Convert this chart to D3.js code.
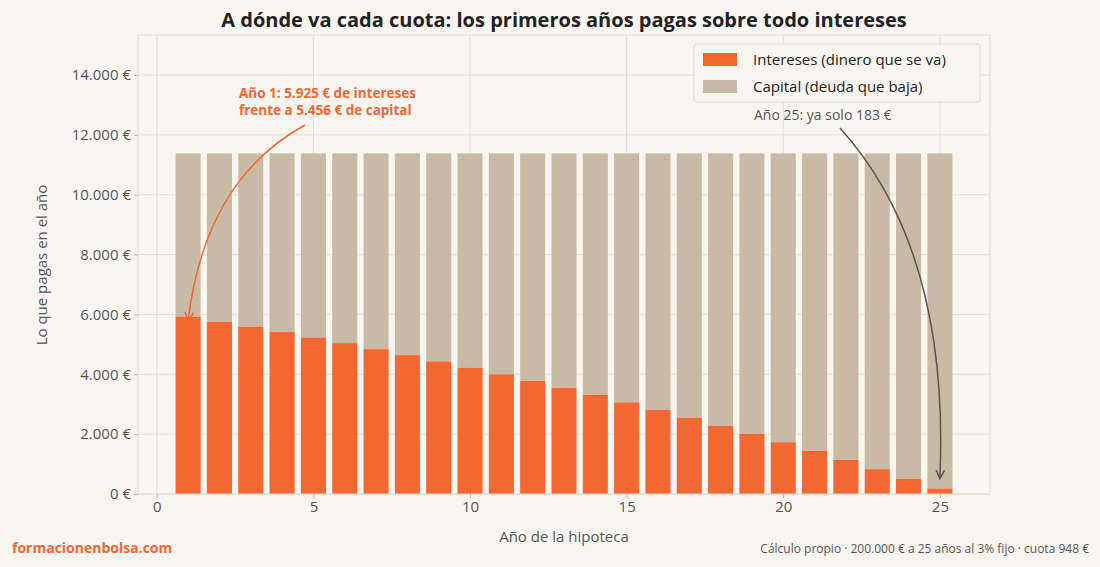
<!DOCTYPE html>
<html><head><meta charset="utf-8">
<script src="https://cdn.jsdelivr.net/npm/d3@7"></script>
<style>body{margin:0;background:#f9f6f1}svg{font-family:"Open Sans",sans-serif}</style>
</head><body><svg id="c" width="1100" height="567"></svg>
<script>
const years = d3.range(1,26);
const interest = [5925,5760,5590,5410,5230,5040,4840,4640,4430,4220,4000,3780,3540,3310,3060,2810,2550,2280,2010,1730,1440,1140,830,510,183];
const annualPayment = 11381;
const capital = interest.map(v=>annualPayment-v);
const yTicks = [0,2000,4000,6000,8000,10000,12000,14000];
const xTicks = [0,5,10,15,20,25];
const C_INT="#f26732", C_CAP="#c9baa6";
const svg=d3.select("#c");
svg.append("rect").attr("width",1100).attr("height",567).attr("fill","#f9f6f1");
const L=138,R=990,T=35,B=494;
const x=d3.scaleLinear().domain([-0.6,26.6]).range([L,R]);
const y=d3.scaleLinear().domain([0,15337]).range([B,T]);
const fmt=v=>d3.format(",")(v).replace(/,/g,".")+" €";
const g=svg.append("g");
g.selectAll(".gy").data(yTicks).join("line").attr("x1",L).attr("x2",R).attr("y1",d=>y(d)).attr("y2",d=>y(d)).attr("stroke","#e6dfd2");
g.selectAll(".gx").data(xTicks).join("line").attr("y1",T).attr("y2",B).attr("x1",d=>x(d)).attr("x2",d=>x(d)).attr("stroke","#e6dfd2");
const bw=x(0.8)-x(0);
g.selectAll(".cap").data(years).join("rect").attr("x",d=>x(d)-bw/2).attr("width",bw)
 .attr("y",(d,i)=>y(annualPayment)).attr("height",(d,i)=>y(interest[i])-y(annualPayment)).attr("fill",C_CAP);
g.selectAll(".int").data(years).join("rect").attr("x",d=>x(d)-bw/2).attr("width",bw)
 .attr("y",(d,i)=>y(interest[i])).attr("height",(d,i)=>B-y(interest[i])).attr("fill",C_INT);
svg.append("rect").attr("x",L).attr("y",T).attr("width",R-L).attr("height",B-T).attr("fill","none").attr("stroke","#e3dccd");
const ax=svg.append("g").attr("transform",`translate(0,${B})`).call(d3.axisBottom(x).tickValues(xTicks).tickSize(4));
const ay=svg.append("g").attr("transform",`translate(${L},0)`).call(d3.axisLeft(y).tickValues(yTicks).tickFormat(fmt).tickSize(4));
[ax,ay].forEach(a=>{a.select(".domain").remove();a.selectAll("line").attr("stroke","#bbb");a.selectAll("text").attr("font-size",15).attr("fill","#555").attr("font-family","Open Sans");});
svg.append("text").attr("x",564).attr("y",542).attr("text-anchor","middle").attr("font-size",15).attr("fill","#555").text("Año de la hipoteca");
svg.append("text").attr("transform","translate(47,265) rotate(-90)").attr("text-anchor","middle").attr("font-size",15).attr("fill","#555").text("Lo que pagas en el año");
svg.append("text").attr("x",564).attr("y",27).attr("text-anchor","middle").attr("font-size",20).attr("font-weight","bold").attr("fill","#222").text("A dónde va cada cuota: los primeros años pagas sobre todo intereses");
// legend
const lg=svg.append("g");
lg.append("rect").attr("x",694).attr("y",44).attr("width",286).attr("height",58).attr("rx",3).attr("fill","#f9f6f1").attr("stroke","#e0d9cc");
[["Intereses (dinero que se va)",C_INT],["Capital (deuda que baja)",C_CAP]].forEach((d,i)=>{
 lg.append("rect").attr("x",703).attr("y",53+i*27).attr("width",34).attr("height",13).attr("fill",d[1]);
 lg.append("text").attr("x",753).attr("y",65+i*27).attr("font-size",15).attr("fill","#222").text(d[0]);
});
// annotations
const defs=svg.append("defs");
[["ao",C_INT],["ag","#555"]].forEach(([id,c])=>defs.append("marker").attr("id",id).attr("viewBox","0 0 10 10").attr("refX",9).attr("refY",5).attr("markerWidth",7).attr("markerHeight",7).attr("orient","auto").append("path").attr("d","M1,1L9,5L1,9").attr("fill","none").attr("stroke",c).attr("stroke-width",1.5));
const a1=svg.append("text").attr("font-size",13.5).attr("font-weight","bold").attr("fill",C_INT);
a1.append("tspan").attr("x",239).attr("y",98).text("Año 1: 5.925 € de intereses");
a1.append("tspan").attr("x",239).attr("y",115).text("frente a 5.456 € de capital");
svg.append("path").attr("d",`M305,125 Q205,180 ${x(1)},${y(interest[0])+4}`).attr("fill","none").attr("stroke",C_INT).attr("stroke-width",1.5).attr("marker-end","url(#ao)");
svg.append("text").attr("x",754).attr("y",120).attr("font-size",14).attr("fill","#555").text("Año 25: ya solo 183 €");
svg.append("path").attr("d",`M840,128 Q950,250 ${x(25)},${y(interest[24])-30+20}`).attr("fill","none").attr("stroke","#555").attr("stroke-width",1.5).attr("marker-end","url(#ag)");
svg.append("text").attr("x",12).attr("y",553).attr("font-size",14).attr("font-weight","bold").attr("fill",C_INT).text("formacionenbolsa.com");
svg.append("text").attr("x",1089).attr("y",553).attr("text-anchor","end").attr("font-size",12).attr("fill","#555").text("Cálculo propio · 200.000 € a 25 años al 3% fijo · cuota 948 €");
</script></body></html>
